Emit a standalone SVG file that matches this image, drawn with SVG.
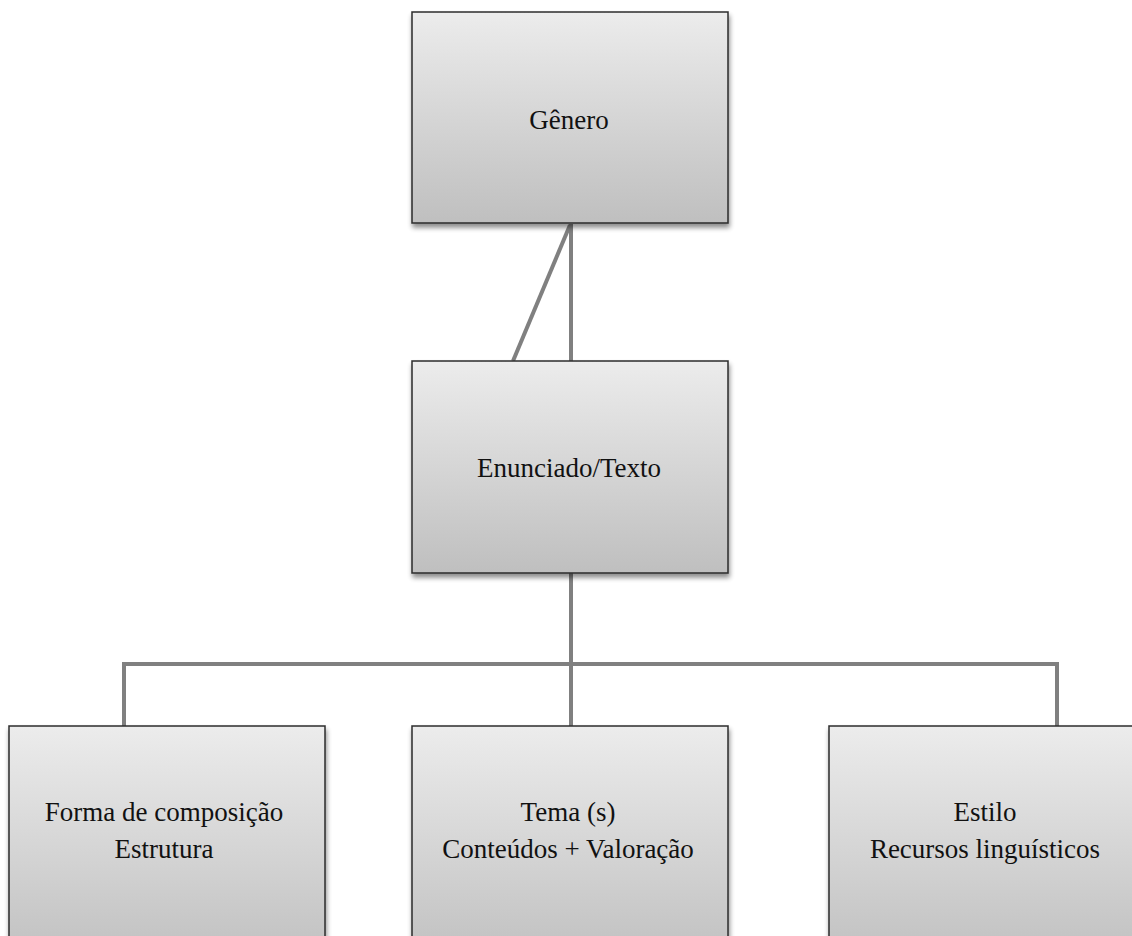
<svg xmlns="http://www.w3.org/2000/svg" width="1132" height="936" viewBox="0 0 1132 936">
<defs>
<linearGradient id="g" x1="0" y1="0" x2="0" y2="1">
<stop offset="0" stop-color="#ececec"/>
<stop offset="1" stop-color="#bfbfbf"/>
</linearGradient>
<filter id="sh" x="-5%" y="-5%" width="115%" height="115%">
<feGaussianBlur in="SourceAlpha" stdDeviation="2.5"/>
<feOffset dx="1" dy="4" result="b"/>
<feComponentTransfer><feFuncA type="linear" slope="0.45"/></feComponentTransfer>
<feMerge><feMergeNode/><feMergeNode in="SourceGraphic"/></feMerge>
</filter>
</defs>
<style>
.box{fill:url(#g);stroke:#2b2b2b;stroke-width:1.5;filter:url(#sh)}
.t{font-family:"Liberation Serif","Times New Roman",serif;font-size:27px;fill:#111;text-anchor:middle}
.c{fill:none;stroke:#808080;stroke-width:4}
</style>
<rect width="1132" height="936" fill="#fff"/>
<g id="connectors">
<line class="c" x1="571" y1="224" x2="571" y2="361"/>
<line class="c" x1="570" y1="225" x2="513" y2="361"/>
<line class="c" x1="571" y1="573" x2="571" y2="726"/>
<polyline class="c" points="124,726 124,664 1057,664 1057,726"/>
</g>
<g id="genero">
<rect class="box" x="412" y="12" width="316" height="211"/>
<text class="t" x="569" y="129">Gênero</text>
</g>
<g id="enunciado">
<rect class="box" x="412" y="361" width="316" height="212"/>
<text class="t" x="569" y="477">Enunciado/Texto</text>
</g>
<g id="forma">
<rect class="box" x="9" y="726" width="316" height="240"/>
<text class="t" x="164" y="821">Forma de composição</text>
<text class="t" x="164" y="858">Estrutura</text>
</g>
<g id="tema">
<rect class="box" x="412" y="726" width="316" height="240"/>
<text class="t" x="568" y="821">Tema (s)</text>
<text class="t" x="568" y="858">Conteúdos + Valoração</text>
</g>
<g id="estilo">
<rect class="box" x="829" y="726" width="316" height="240"/>
<text class="t" x="985" y="821">Estilo</text>
<text class="t" x="985" y="858">Recursos linguísticos</text>
</g>
</svg>
